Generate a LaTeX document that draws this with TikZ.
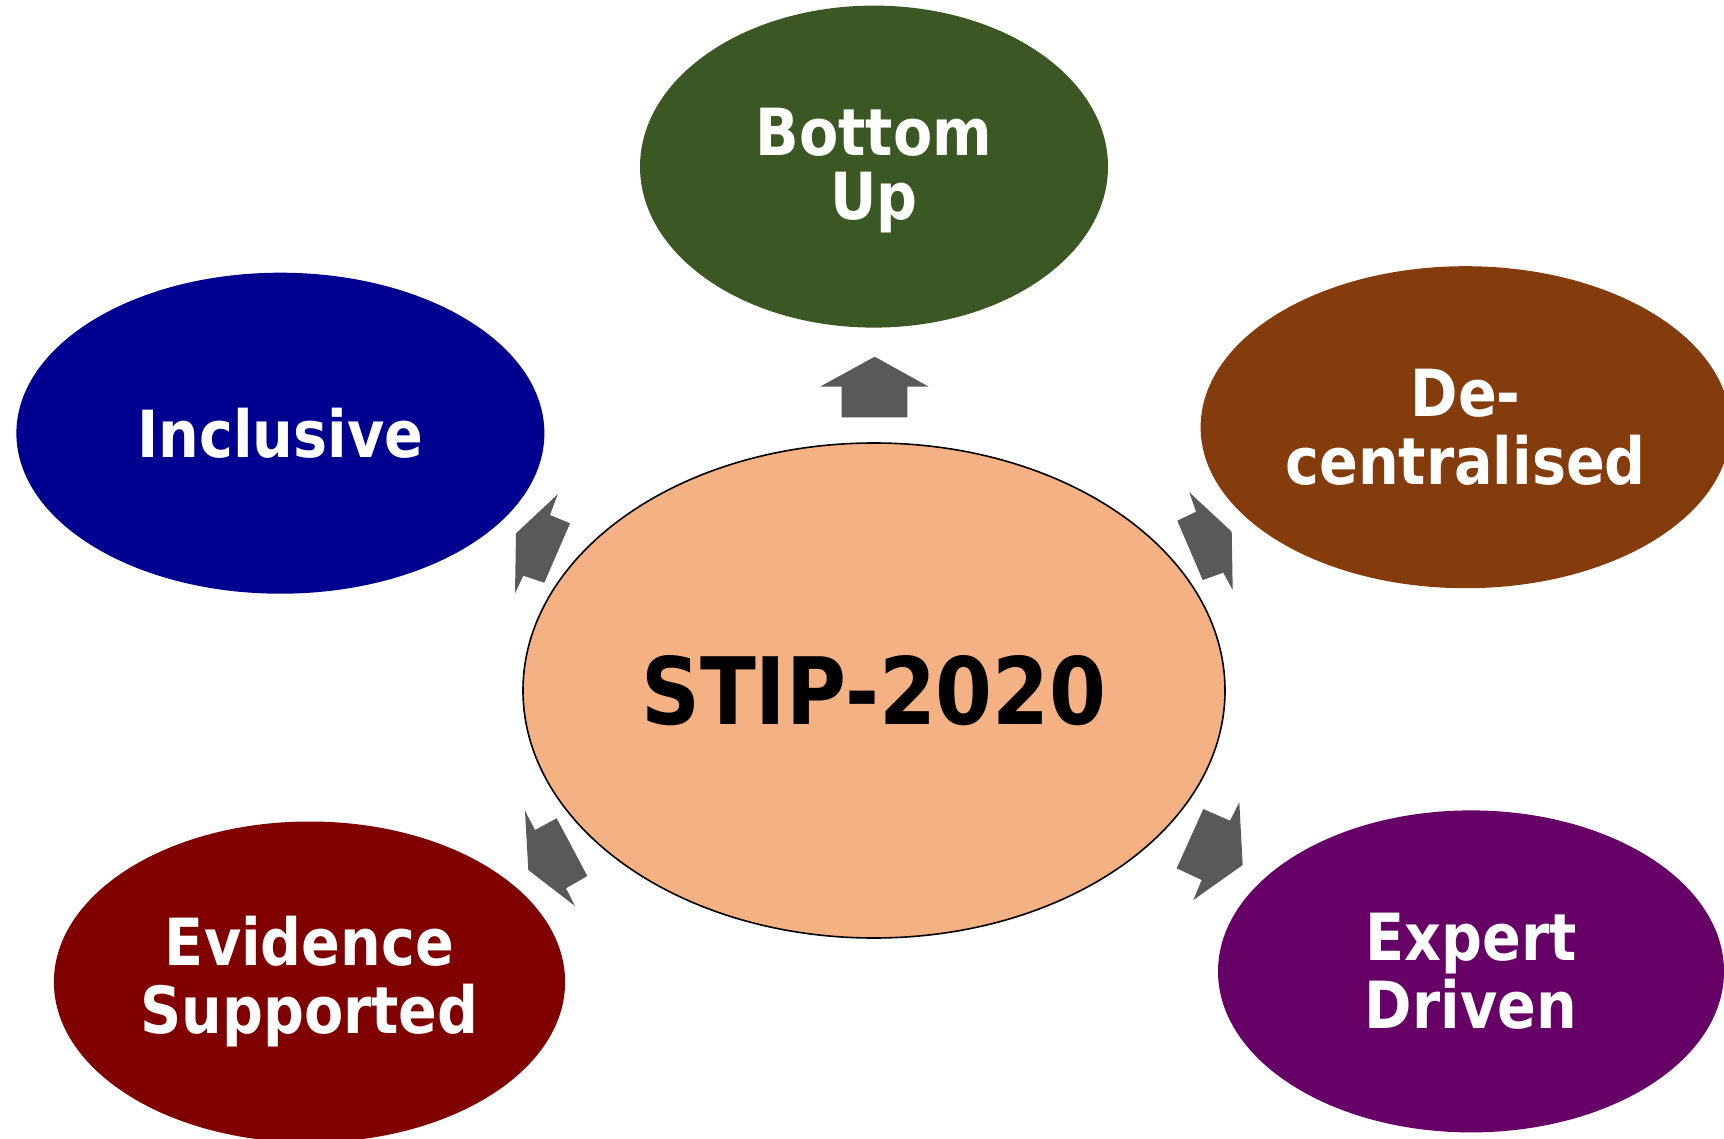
\documentclass[tikz,border=0pt]{standalone}
\usepackage{fontspec}
\usetikzlibrary{shapes.geometric}
\newfontfamily\lblfont{DejaVu Sans Bold}[FakeStretch=0.88]
\definecolor{cgreen}{HTML}{3A5724}
\definecolor{cblue}{HTML}{000090}
\definecolor{cbrown}{HTML}{843C0C}
\definecolor{cred}{HTML}{800000}
\definecolor{cpurple}{HTML}{660066}
\definecolor{cpeach}{HTML}{F4B183}
\definecolor{carrow}{HTML}{595959}
\begin{document}
\begin{tikzpicture}[x=0.5pt,y=-0.5pt,
  oval/.style={ellipse,inner sep=0pt,text=white,align=center,
    font=\lblfont\fontsize{32.5}{34}\selectfont},
  blockarrow/.style={fill=carrow,draw=none}]
\useasboundingbox (0,0) rectangle (1724,1139);
\begin{scope}
\clip (0,0) rectangle (1724,1139);
\node[oval,fill=cgreen,minimum width=234pt,minimum height=161pt] (bu) at (874,166.6) {\rule{0pt}{28.1pt}Bottom\\[-2pt]Up};
\node[oval,fill=cblue,minimum width=264pt,minimum height=160.5pt] (inc) at (280.4,433.2) {Inclusive};
\node[oval,fill=cbrown,minimum width=265pt,minimum height=161pt] (dec) at (1465.6,427.2) {De-\\centralised};
\node[oval,fill=cred,minimum width=255.6pt,minimum height=160.5pt] (evi) at (309.5,982) {Evidence\\Supported};
\node[oval,fill=cpurple,minimum width=253pt,minimum height=161pt] (exp) at (1471,971.4) {Expert\\Driven};
\node[ellipse,inner sep=0pt,fill=cpeach,draw=black,line width=0.8pt,
  minimum width=351pt,minimum height=247.5pt,
  font=\lblfont\fontsize{46.5}{48}\selectfont] (stip) at (874,690.5) {STIP-2020};
\end{scope}
% block arrows
\fill[blockarrow] (874.7,356.7) -- (928.7,386.7) -- (907.3,386.7) -- (907.3,417.3)
  -- (841.7,417.3) -- (841.7,386.7) -- (820,386.7) -- cycle;
\fill[blockarrow] (557.7,494.3) -- (550,515) -- (570,523.3) -- (544.3,582.7)
  -- (523.3,575.7) -- (515,593.3) -- (516,533.3) -- cycle;
\fill[blockarrow] (1189.3,492.3) -- (1196,511.7) -- (1177.3,520.7) -- (1202.7,580)
  -- (1223.3,572.7) -- (1232.7,590) -- (1231.7,531.7) -- cycle;
\fill[blockarrow] (525,810.7) -- (535,830) -- (556.7,818.3) -- (587.3,876)
  -- (566,888.3) -- (575,906) -- (528.3,870) -- cycle;
\fill[blockarrow] (1203.3,809) -- (1230,820.7) -- (1239.3,802.3) -- (1242.7,865)
  -- (1193.3,900) -- (1201.7,880) -- (1176.7,868.3) -- cycle;
\end{tikzpicture}
\end{document}
